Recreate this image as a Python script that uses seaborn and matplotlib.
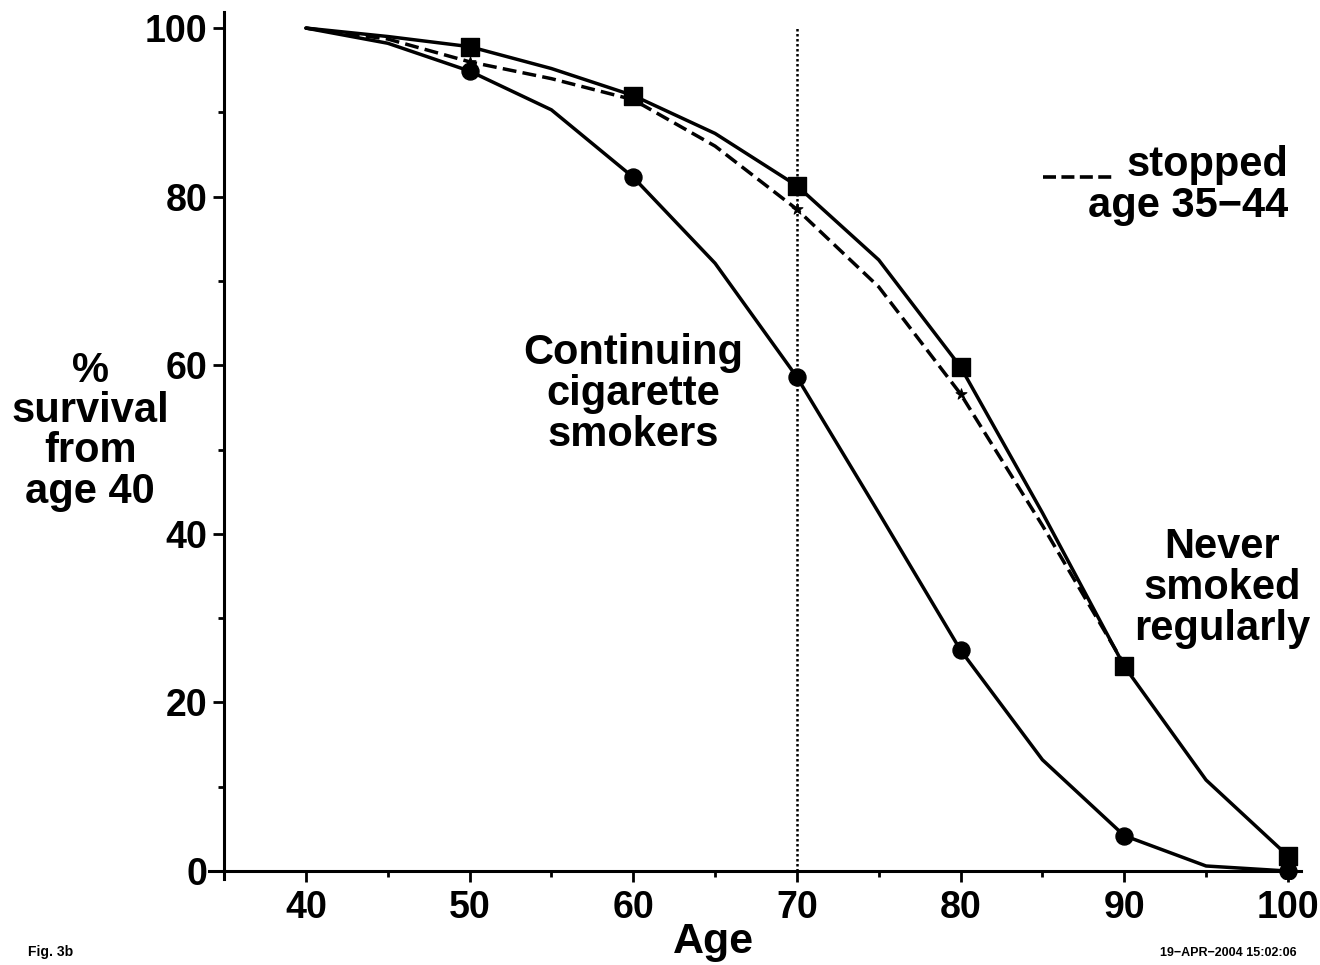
import numpy as np
import pandas as pd
import matplotlib
matplotlib.use("Agg")
import matplotlib.pyplot as plt
from matplotlib.lines import Line2D
from matplotlib.ticker import MultipleLocator
import seaborn as sns

# =============================================================================
# DATA
# =============================================================================
ages = [40, 45, 50, 55, 60, 65, 70, 75, 80, 85, 90, 95, 100]
never_smoked = [100, 99.0, 97.8, 95.2, 92.0, 87.5, 81.3, 72.5, 59.8, 42.5, 24.3, 10.8, 1.8]
continuing = [100, 98.2, 94.9, 90.3, 82.3, 72.1, 58.6, 42.5, 26.2, 13.2, 4.2, 0.6, 0.0]
stopped_ages = [40, 45, 50, 55, 60, 65, 70, 75, 80, 85, 90]
stopped_35_44 = [100, 98.7, 96.0, 94.0, 91.5, 86.0, 78.5, 69.3, 56.6, 41.0, 24.5]

marker_ages = [50, 60, 70, 80, 90, 100]
xticks = [40, 50, 60, 70, 80, 90, 100]
yticks = [0, 20, 40, 60, 80, 100]

df_never = pd.DataFrame({'age': ages, 'surv': never_smoked})
df_cont = pd.DataFrame({'age': ages, 'surv': continuing})
df_stop = pd.DataFrame({'age': stopped_ages, 'surv': stopped_35_44})

# =============================================================================
# STYLE
# =============================================================================
sns.set_style("ticks")
plt.rcParams['font.family'] = ['Liberation Sans', 'DejaVu Sans']
plt.rcParams['font.weight'] = 'bold'
for k in ['text.color', 'axes.labelcolor', 'xtick.color', 'ytick.color', 'axes.edgecolor']:
    plt.rcParams[k] = 'black'

fig = plt.figure(figsize=(13.2, 9.65), dpi=100)
ax = fig.add_axes([0.1586, 0.0895, 0.827, 0.898])

LW = 2.5
sns.lineplot(data=df_never, x='age', y='surv', ax=ax, color='black', lw=LW)
sns.lineplot(data=df_cont, x='age', y='surv', ax=ax, color='black', lw=LW)
sns.lineplot(data=df_stop, x='age', y='surv', ax=ax, color='black', lw=LW,
             linestyle=(0, (4.0, 1.8)))

sns.scatterplot(data=df_never[df_never['age'].isin(marker_ages)], x='age', y='surv', ax=ax,
                marker='s', s=150, color='black', edgecolor='black', zorder=5)
sns.scatterplot(data=df_cont[df_cont['age'].isin(marker_ages)], x='age', y='surv', ax=ax,
                marker='o', s=150, color='black', edgecolor='black', zorder=5)
sns.scatterplot(data=df_stop[df_stop['age'].isin(marker_ages)], x='age', y='surv', ax=ax,
                marker='*', s=70, color='black', edgecolor='black', zorder=5)

# age-70 reference line
ax.vlines(70, 0, 100, colors='black', linestyles=(0, (1.0, 1.0)), lw=1.8)

# =============================================================================
# AXES
# =============================================================================
ax.set_xlim(34.1, 100.8)
ax.set_ylim(-0.9, 101.9)
ax.spines['left'].set_position(('data', 35))
ax.spines['bottom'].set_position(('data', 0))
ax.spines['right'].set_visible(False)
ax.spines['top'].set_visible(False)
for s in ['left', 'bottom']:
    ax.spines[s].set_linewidth(2.2)

ax.set_xticks(xticks)
ax.set_yticks(yticks)
ax.xaxis.set_minor_locator(MultipleLocator(5))
ax.yaxis.set_minor_locator(MultipleLocator(10))
ax.tick_params(axis='both', which='major', length=8, width=2.0, labelsize=27, pad=4)
ax.tick_params(axis='x', which='major', pad=6)
ax.tick_params(axis='both', which='minor', length=4.5, width=2.0)
for lab in ax.get_xticklabels() + ax.get_yticklabels():
    lab.set_fontweight('bold')

ax.set_xlabel('Age', fontsize=31, fontweight='bold')
ax.xaxis.set_label_coords(0.462, -0.073)
ax.xaxis.label.set_va('center')

ax.set_ylabel('%\nsurvival\nfrom\nage 40', fontsize=30, fontweight='bold',
              rotation=0, ha='center', va='center', linespacing=1.01)
ax.yaxis.set_label_coords(-0.109, 0.5165)

# =============================================================================
# ANNOTATIONS
# =============================================================================
txt = dict(fontsize=30, fontweight='bold', linespacing=1.03)
ax.text(60, 56.6, 'Continuing\ncigarette\nsmokers', ha='center', va='center', **txt)
ax.text(96.0, 33.6, 'Never\nsmoked\nregularly', ha='center', va='center', **txt)
ax.text(100, 81.3, 'stopped\nage 35\u221244', ha='right', va='center', multialignment='right', **txt)
ax.add_line(Line2D([0.7637, 0.8296], [0.810, 0.810], transform=ax.transAxes,
                   color='black', lw=2.6, linestyle=(0, (3.6, 1.5)), clip_on=False))

fig.text(28 / 1320, 1 - 952 / 965, 'Fig. 3b', fontsize=10, fontweight='bold', va='center')
fig.text(1297 / 1320, 1 - 953 / 965, '19\u2212APR\u22122004 15:02:06', fontsize=9,
         fontweight='bold', va='center', ha='right')

fig.savefig('out.png', dpi=100)
